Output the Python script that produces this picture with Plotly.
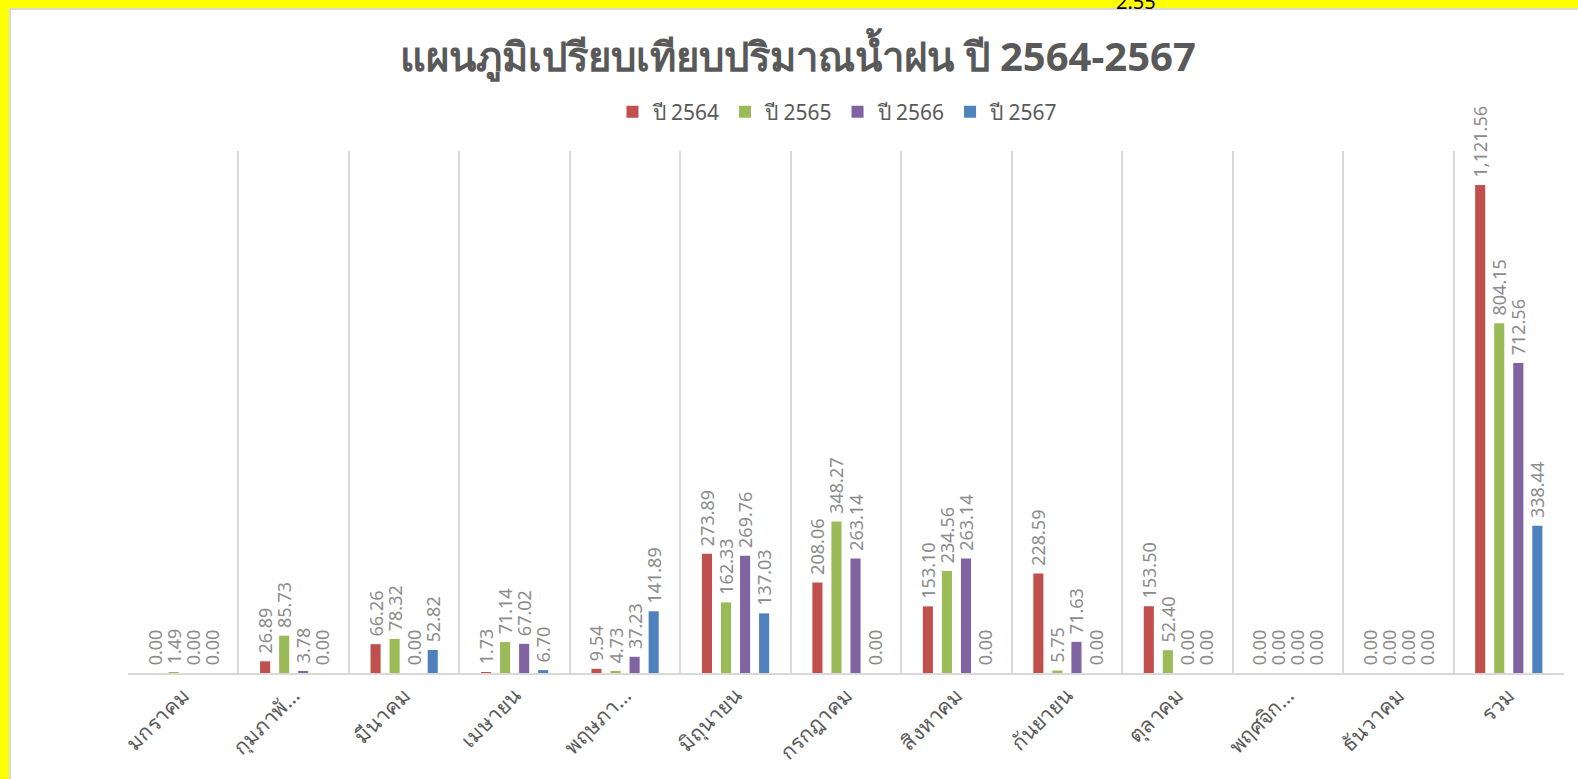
import plotly.graph_objects as go

categories = ["มกราคม", "กุมภาพั…", "มีนาคม", "เมษายน", "พฤษภา…", "มิถุนายน",
              "กรกฎาคม", "สิงหาคม", "กันยายน", "ตุลาคม", "พฤศจิก…", "ธันวาคม", "รวม"]
series_names = ["ปี 2564", "ปี 2565", "ปี 2566", "ปี 2567"]
y2564 = [0.00, 26.89, 66.26, 1.73, 9.54, 273.89, 208.06, 153.10, 228.59, 153.50, 0.00, 0.00, 1121.56]
y2565 = [1.49, 85.73, 78.32, 71.14, 4.73, 162.33, 348.27, 234.56, 5.75, 52.40, 0.00, 0.00, 804.15]
y2566 = [0.00, 3.78, 0.00, 67.02, 37.23, 269.76, 263.14, 263.14, 71.63, 0.00, 0.00, 0.00, 712.56]
y2567 = [0.00, 0.00, 52.82, 6.70, 141.89, 137.03, 0.00, 0.00, 0.00, 0.00, 0.00, 0.00, 338.44]
colors = ["#C0504D", "#9BBB59", "#8064A2", "#4F81BD"]
stray_label = "2.55"

FONT = "Noto Sans, Tahoma, Leelawadee UI, sans-serif"
W, H = 1578, 779
L, R, T, B = 128, 14, 151, 106
pw, ph = W - L - R, H - T - B

def px_x(p):
    return (p - L) / pw

def px_y(p):
    return (H - B - p) / ph

xs = list(range(len(categories)))
fig = go.Figure()
for name, vals, col in zip(series_names, [y2564, y2565, y2566, y2567], colors):
    fig.add_trace(go.Bar(
        x=xs, y=vals, name=name, marker=dict(color=col, line=dict(width=0)),
        texttemplate="\u00a0%{y:,.2f}", textposition="outside", textangle=-90,
        constraintext="none", cliponaxis=False,
        textfont=dict(family=FONT, size=18, color="#8c8c8c"),
    ))

fig.update_layout(
    width=W, height=H,
    margin=dict(l=L, r=R, t=T, b=B, autoexpand=False),
    paper_bgcolor="#FFFF00",
    plot_bgcolor="rgba(0,0,0,0)",
    barmode="group", bargap=0.31, bargroupgap=0.47,
    title=dict(text="<b>แผนภูมิเปรียบเทียบปริมาณน้ำฝน ปี 2564-2567</b>",
               x=798 / W, xanchor="center", xref="container",
               y=1 - 57 / H, yanchor="middle", yref="container",
               font=dict(family=FONT, size=40, color="#595959")),
    legend=dict(orientation="h", x=px_x(838), xanchor="center",
                y=px_y(112), yanchor="middle",
                font=dict(family=FONT, size=21, color="#595959"),
                bgcolor="rgba(0,0,0,0)", itemwidth=30),
    xaxis=dict(range=[-0.5, len(categories) - 0.5], tickvals=xs, ticktext=categories,
               tickangle=-45, showgrid=False, zeroline=False, ticks="",
               showline=True, linecolor="#d9d9d9", linewidth=2, automargin=False,
               tickfont=dict(family=FONT, size=21, color="#595959"),
               minor=dict(tick0=-0.5, dtick=1, showgrid=True, gridcolor="#d9d9d9", gridwidth=2, ticks="")),
    yaxis=dict(range=[0, 1200], showgrid=False, showticklabels=False, zeroline=False,
               showline=False, ticks="", automargin=False),
    shapes=[dict(type="rect", xref="paper", yref="paper",
                 x0=px_x(10), x1=px_x(W + 20), y0=px_y(9), y1=px_y(H + 20),
                 fillcolor="white", line=dict(color="#d9d9d9", width=2), layer="below")],
    annotations=[dict(text=stray_label, xref="paper", yref="paper",
                      x=px_x(1136), y=px_y(1), xanchor="center", yanchor="middle",
                      showarrow=False, font=dict(family=FONT, size=20, color="black"))],
)

fig.write_html("out.html", config={"displayModeBar": False},
               post_script="document.body.style.margin='0';document.body.style.background='#FFFF00';")
